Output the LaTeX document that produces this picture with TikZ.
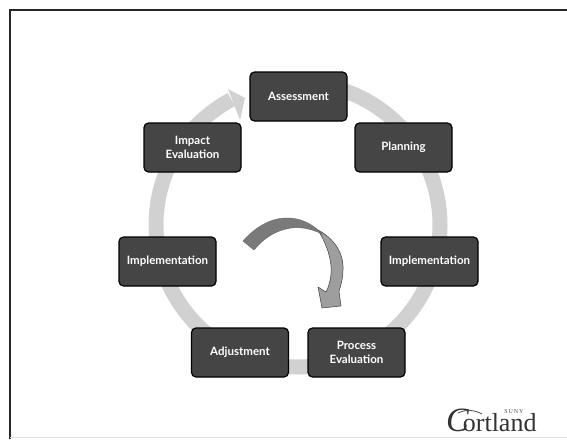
\documentclass[tikz,border=0pt]{standalone}
\usepackage{fontspec}
\setmainfont{Lato}
\newfontfamily\logofont{Liberation Serif}
\newfontfamily\logoital{Liberation Serif Italic}
\definecolor{boxfill}{gray}{0.27}
\definecolor{ringc}{gray}{0.82}
\tikzset{
  stage/.style={draw=black,line width=1.2pt,fill=boxfill,rounded corners=4.5pt,minimum width=97pt,minimum height=49pt,
    text=white,align=center,font=\fontsize{11.5}{14}\selectfont\bfseries,inner sep=1pt},
  ring/.style={draw=ringc,line width=15pt}
}
\begin{document}
\begin{tikzpicture}[x=1pt,y=-1pt]
\useasboundingbox (0,0) rectangle (567,439);
\fill[white] (0,0) rectangle (567,439);
\coordinate (frameNW) at (10,10);
\coordinate (frameNE) at (567,10);
\coordinate (frameSW) at (10,439);
\draw[line width=1.3pt,black!85] (frameSW) -- (frameNW) -- (frameNE);
\draw[line width=0.8pt,black!12] (10,437.5) -- (567,437.5);
\draw[ring] (298,83) arc[start angle=-90,end angle=242,radius=142];
\fill[ringc] (245,98) -- (228,89) -- (240,120) -- cycle;
\node[stage] (a) at (298.5,96.5) {Assessment};
\node[stage] (b) at (403.5,147.5) {Planning};
\node[stage] (c) at (429.5,261.5) {Implementation};
\node[stage] (d) at (356.5,352.5) {Process\\Evaluation};
\node[stage] (e) at (240,352.5) {Adjustment};
\node[stage] (f) at (167.5,261.5) {Implementation};
\node[stage] (g) at (192.5,147.5) {Impact\\Evaluation};
% turning arrow: light lower part, then dark upper part
\fill[fill=black!38,draw=black!75,line width=0.5pt] (318,230)
  .. controls (333,238) and (344,252) .. (343,270)
  .. controls (343,278) and (341,285) .. (339,291) -- (341,306) -- (322,308) -- (318,287) -- (326,292)
  .. controls (333,278) and (335,258) .. (318,230) -- cycle;
\fill[fill=black!52,draw=black!60,line width=0.4pt] (243,241)
  .. controls (258,224) and (275,217) .. (290,218)
  .. controls (303,219) and (314,225) .. (322,234)
  .. controls (310,228) and (297,226) .. (286,229)
  .. controls (273,232) and (262,240) .. (254,250) -- cycle;
\node[anchor=base west,inner sep=0pt,font=\logofont\fontsize{26}{26}\selectfont,text=black!80] (logo) at (446,431)
  {{\logoital\fontsize{34}{34}\selectfont C}\kern-6pt ortland};
\node[font=\logofont\fontsize{6}{6}\selectfont\addfontfeature{LetterSpace=15},inner sep=0pt,text=black!70] (suny) at (514,412) {SUNY};
\draw[black!70,line width=0.8pt] (458,413) .. controls (466,409) and (475,410) .. (482,414);
\end{tikzpicture}
\end{document}
